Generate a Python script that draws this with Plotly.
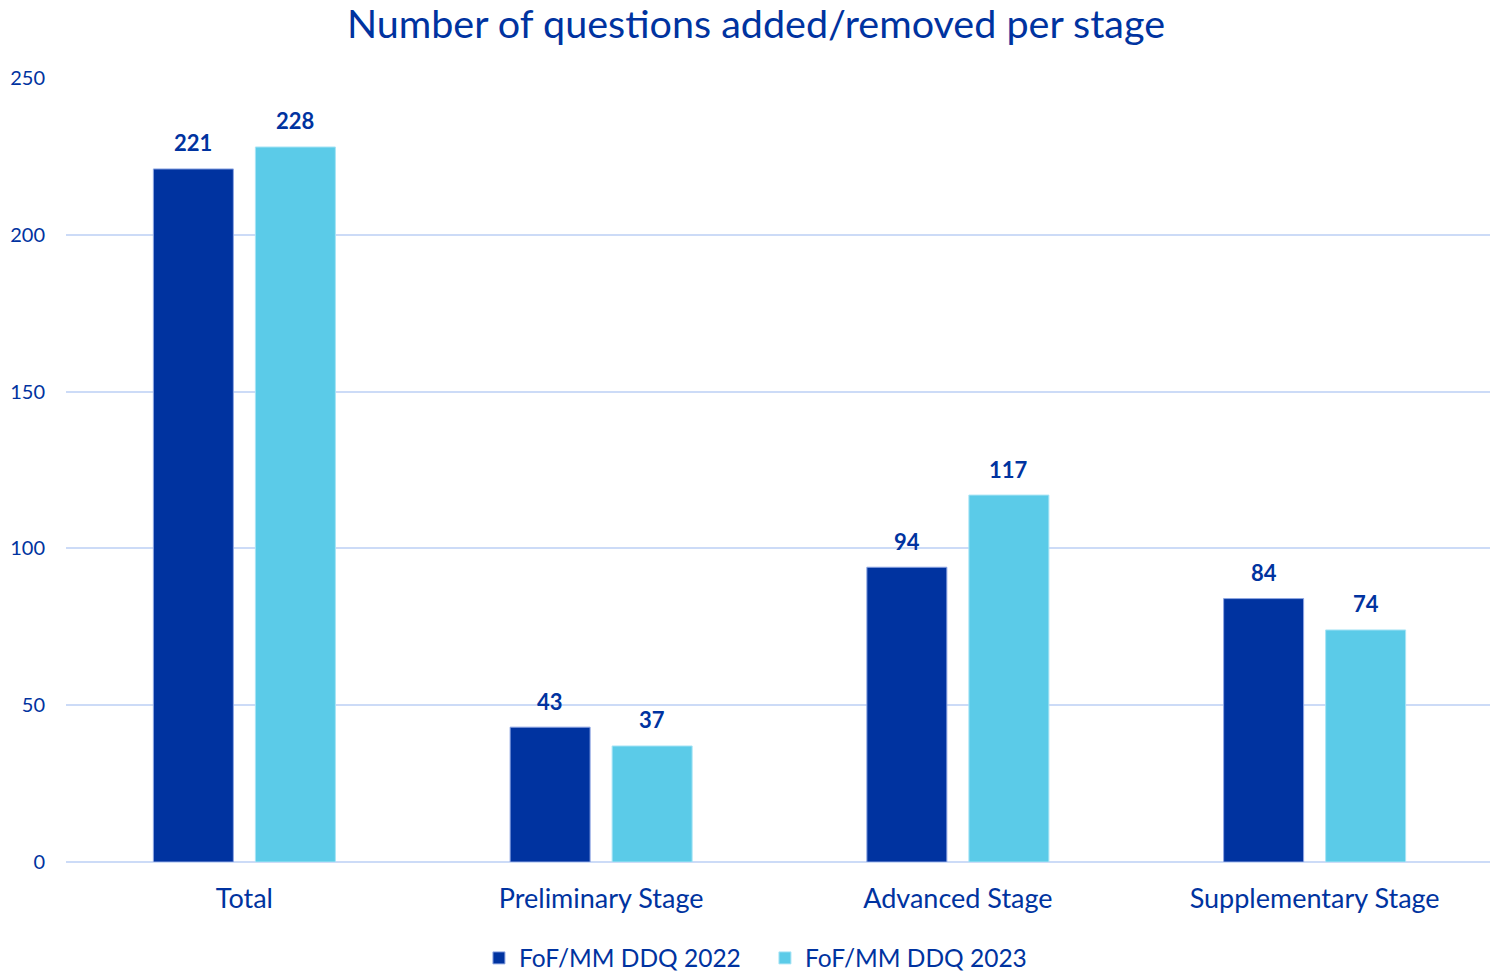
import plotly.graph_objects as go

categories = ["Total", "Preliminary Stage", "Advanced Stage", "Supplementary Stage"]
series_names = ["FoF/MM DDQ 2022", "FoF/MM DDQ 2023"]
values_2022 = [221, 43, 94, 84]
values_2023 = [228, 37, 117, 74]
colors = ["#0033A0", "#5BCBE8"]
border_colors = ["#8EA6E3", "#A8E4F5"]
text_color = "#0033A0"
grid_color = "#CCDBF7"
font_family = "Lato, 'Open Sans', sans-serif"

# page body has an 8px margin; figure is sized so that it fills the window
W, H = 1490, 972
ML, MR, MT, MB = 58, 5, 70, 118

fig = go.Figure()
all_vals = [values_2022, values_2023]
for name, vals, col, bcol in zip(series_names, all_vals, colors, border_colors):
    fig.add_trace(go.Bar(
        x=categories, y=vals, name=name,
        marker=dict(color=col, line=dict(color=bcol, width=1)),
        hoverinfo="x+y",
    ))

# data labels as annotations above each bar
shifts = [-51, 51]
for vals, xs in zip(all_vals, shifts):
    for c, v in zip(categories, vals):
        fig.add_annotation(
            x=c, y=v, xref="x", yref="y", text=f"<b>{v}</b>", showarrow=False,
            xshift=xs, yshift=26, yanchor="middle", xanchor="center",
            font=dict(family=font_family, size=22, color=text_color),
        )

fig.update_layout(
    width=W, height=H,
    paper_bgcolor="white", plot_bgcolor="white",
    barmode="group", bargap=0.428, bargroupgap=0.216,
    margin=dict(l=ML, r=MR, t=MT, b=MB, autoexpand=False),
    title=dict(text="Number of questions added/removed per stage",
               x=748 / W, xanchor="center", xref="container",
               y=1 - 16 / H, yanchor="middle", yref="container",
               font=dict(family=font_family, size=39.5, color=text_color)),
    font=dict(family=font_family, color=text_color),
    legend=dict(orientation="h", x=0.4898, xanchor="center", y=-0.1224, yanchor="middle",
                font=dict(family=font_family, size=24.5, color=text_color),
                traceorder="normal", entrywidth=241, entrywidthmode="pixels"),
    yaxis=dict(range=[0, 250], dtick=50, showgrid=True, gridcolor=grid_color, gridwidth=2,
               zeroline=True, zerolinecolor=grid_color, zerolinewidth=2,
               tickfont=dict(family=font_family, size=20, color=text_color),
               ticklabelstandoff=20, showline=False, automargin=False),
    xaxis=dict(tickfont=dict(family=font_family, size=27, color=text_color),
               showline=False, ticks="", ticklabelstandoff=18, automargin=False),
)

fig.write_html("out.html")
